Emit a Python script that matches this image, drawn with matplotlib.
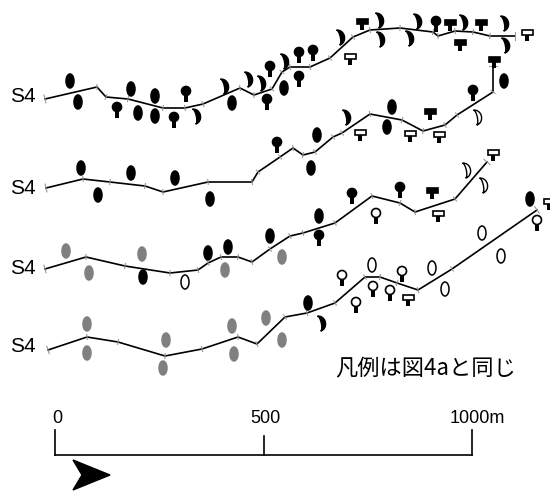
import numpy as np
import matplotlib
matplotlib.use('Agg')
import matplotlib.pyplot as plt
from matplotlib.patches import Ellipse, Circle, Rectangle, Polygon

# transect profiles (plan units, y grows downward)
l1x = [45, 97, 106, 128, 163, 185, 203, 240, 254, 272, 282, 290, 310, 330, 353, 370, 400, 433, 438, 455, 473, 490, 515]
l1y = [99, 87, 97, 99, 108, 108, 104, 88, 95, 89, 72, 67, 67, 58, 37, 30, 28, 32, 36, 31, 32, 36, 36]
l2x = [46, 83, 110, 145, 163, 208, 252, 258, 280, 293, 303, 315, 333, 342, 370, 402, 423, 445, 457, 493, 493]
l2y = [188, 179, 182, 186, 192, 182, 182, 172, 157, 148, 155, 152, 137, 133, 114, 120, 131, 125, 115, 92, 66]
l3x = [45, 86, 125, 170, 198, 208, 221, 238, 252, 270, 290, 303, 335, 372, 400, 415, 455, 487]
l3y = [269, 257, 266, 273, 270, 263, 257, 257, 262, 249, 236, 233, 223, 196, 203, 212, 199, 162]
l4x = [48, 87, 118, 165, 202, 238, 257, 285, 307, 335, 365, 380, 397, 418, 452, 537]
l4y = [350, 337, 342, 356, 349, 337, 344, 317, 313, 303, 277, 277, 283, 290, 269, 210]

# symbols: E egg, Eg grey egg, Eo open egg, K keyhole, Ko open keyhole,
# T tee, To open tee, C crescent, Co open crescent
s1 = {'E': [(70, 81), (78, 102), (131, 89), (138, 113), (155, 96), (155, 116), (232, 103), (284, 88)],
      'K': [(117, 107), (186, 91), (174, 117), (270, 66), (267, 99), (299, 52), (313, 50), (299, 76), (436, 21)],
      'C': [(197, 116), (225, 86), (249, 79), (262, 83), (285, 61), (341, 37), (380, 20), (381, 39),
            (418, 21), (410, 38), (464, 22), (505, 23), (506, 45)],
      'T': [(362, 21), (450, 22), (481, 22), (460, 42)],
      'To': [(350, 56), (527, 32)]}
s2 = {'E': [(81, 168), (98, 195), (131, 173), (175, 178), (210, 199), (311, 168), (317, 135),
            (392, 107), (387, 127), (504, 81)],
      'K': [(277, 142), (473, 90)],
      'C': [(347, 117)],
      'Co': [(478, 117)],
      'T': [(430, 111), (494, 59)],
      'To': [(360, 132), (410, 133), (439, 134)]}
s3 = {'E': [(208, 253), (228, 247), (270, 236), (319, 216), (143, 277)],
      'Eg': [(66, 251), (89, 273), (142, 254), (225, 270), (282, 257)],
      'Eo': [(185, 282)],
      'K': [(319, 235), (352, 193), (400, 187)],
      'Ko': [(376, 213)],
      'T': [(432, 190)],
      'To': [(438, 213), (493, 152)],
      'Co': [(467, 170), (484, 185)]}
s4 = {'Eg': [(87, 324), (87, 353), (166, 340), (163, 368), (232, 326), (234, 354), (266, 318), (282, 340)],
      'E': [(308, 303), (530, 199)],
      'C': [(322, 323)],
      'Ko': [(342, 275), (356, 302), (373, 286), (390, 290), (402, 271), (537, 220)],
      'Eo': [(372, 265), (432, 268), (445, 289), (482, 233), (501, 256)],
      'To': [(408, 297), (549, 201)]}

labels_y = [97, 188, 269, 347]
scale_ticks = [0, 500, 1000]
scale_labels = ['0', '500', '1000m']

GREY = '#808080'


def egg(ax, x, y, fc):
    ax.add_patch(Ellipse((x, y), 8, 14, fc=fc, ec='k' if fc == 'white' else fc, lw=1.1, zorder=3))


def keyhole(ax, x, y, fc):
    ax.add_patch(Rectangle((x - 1.6, y), 3.2, 11, fc='k', lw=0, zorder=3))
    ax.add_patch(Circle((x, y), 4.5, fc=fc, ec='k', lw=1.2, zorder=4))


def tee(ax, x, y, fc):
    ax.add_patch(Rectangle((x - 1.8, y), 3.6, 9, fc='k', lw=0, zorder=3))
    ax.add_patch(Rectangle((x - 5.5, y - 2.5), 11, 5, fc=fc, ec='k', lw=1.2, zorder=4))


def crescent(ax, x, y, fc):
    t = np.linspace(-np.pi / 2, np.pi / 2, 30)
    ox = x - 3 + 6.5 * np.cos(t)
    oy = y + 7.5 * np.sin(t)
    ix = x - 3 + 2.3 * np.cos(t[::-1])
    iy = y + 7.5 * np.sin(t[::-1])
    pts = np.column_stack([np.r_[ox, ix], np.r_[oy, iy]])
    # slight tilt so the upper horn leans left
    ang = np.deg2rad(-12)
    dx, dy = pts[:, 0] - x, pts[:, 1] - y
    pts = np.column_stack([x + dx * np.cos(ang) - dy * np.sin(ang),
                           y + dx * np.sin(ang) + dy * np.cos(ang)])
    ax.add_patch(Polygon(pts, closed=True, fc=fc, ec='k', lw=1.0, zorder=3))


draw = {'E': lambda a, x, y: egg(a, x, y, 'k'),
        'Eg': lambda a, x, y: egg(a, x, y, GREY),
        'Eo': lambda a, x, y: egg(a, x, y, 'white'),
        'K': lambda a, x, y: keyhole(a, x, y, 'k'),
        'Ko': lambda a, x, y: keyhole(a, x, y, 'white'),
        'T': lambda a, x, y: tee(a, x, y, 'k'),
        'To': lambda a, x, y: tee(a, x, y, 'white'),
        'C': lambda a, x, y: crescent(a, x, y, 'k'),
        'Co': lambda a, x, y: crescent(a, x, y, 'white')}

fig = plt.figure(figsize=(5.5, 4.92), dpi=100)
ax = fig.add_axes([0, 0, 1, 1])
ax.set_xlim(0, 550)
ax.set_ylim(492, 0)
ax.axis('off')

for lx, ly in [(l1x, l1y), (l2x, l2y), (l3x, l3y), (l4x, l4y)]:
    ax.plot(lx, ly, color='k', lw=1.2, zorder=2)
    px, py = np.array(lx, float), np.array(ly, float)
    for i in range(len(px)):
        a, b = max(i - 1, 0), min(i + 1, len(px) - 1)
        dx, dy = px[b] - px[a], py[b] - py[a]
        n = np.hypot(dx, dy)
        nx, ny = -dy / n, dx / n
        L = 4 if i in (0, len(px) - 1) else 2.5
        ax.plot([px[i] - nx * L, px[i] + nx * L], [py[i] - ny * L, py[i] + ny * L],
                color='#999999', lw=0.8, zorder=2)

for s in [s1, s2, s3, s4]:
    for kind, pts in s.items():
        for x, y in pts:
            draw[kind](ax, x, y)

for y in labels_y:
    ax.text(23, y, 'S4', ha='center', va='center', fontsize=15,
            family=['Liberation Sans Narrow', 'Liberation Sans'])

ax.text(426, 369, '凡例は図4aと同じ', ha='center', va='center', fontsize=16,
        family=['Noto Sans CJK JP', 'DejaVu Sans'])

# scale bar
x0, x1 = 55, 472
sx = [x0 + (x1 - x0) * v / 1000 for v in scale_ticks]
ax.plot([sx[0], sx[-1]], [455, 455], color='k', lw=1.2)
for v, xx, lab in zip(scale_ticks, sx, scale_labels):
    top = 436 if v == 500 else 430
    ax.plot([xx, xx], [top, 455], color='k', lw=1.2)
    ax.text(xx + 2 if v < 1000 else xx + 5, 423, lab, ha='center', va='baseline',
            fontsize=13, family=['Liberation Sans', 'DejaVu Sans'])

# direction arrow
ax.add_patch(Polygon([(73, 460), (110, 475), (73, 490), (82, 475)], closed=True, fc='k', ec='k'))

fig.savefig('out.png', dpi=100)
